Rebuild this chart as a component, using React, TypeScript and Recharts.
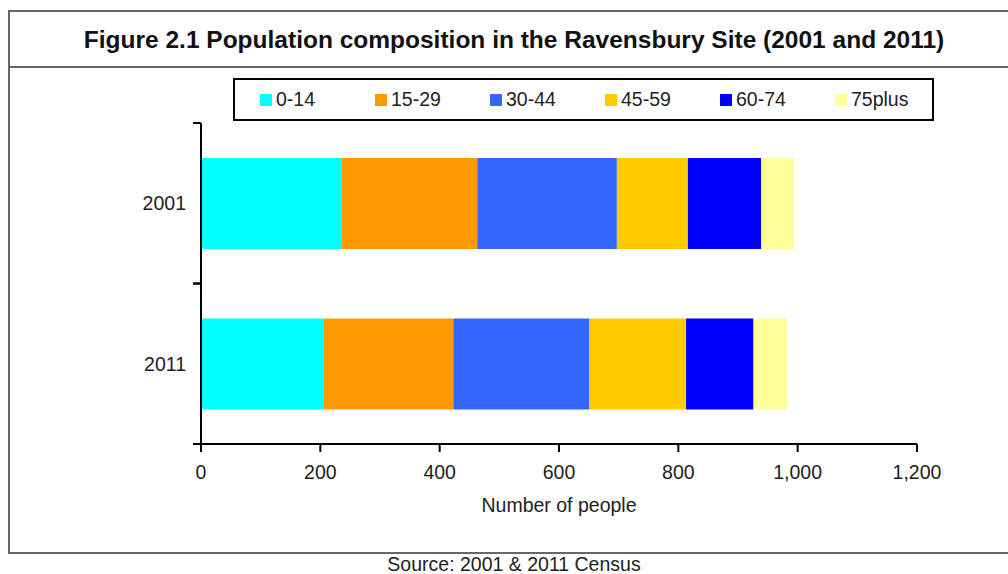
import React from 'react';
import { BarChart, Bar, XAxis, YAxis, Legend, Label } from 'recharts';

// values
const years = ['2001', '2011'];
const ageGroups = ['0-14', '15-29', '30-44', '45-59', '60-74', '75plus'];
const values2001 = [235, 228, 234, 119, 123, 55];
const values2011 = [205, 218, 228, 162, 113, 56];
const groupColors = ['#00FFFF', '#FF9900', '#3366FF', '#FFCC00', '#0000FF', '#FFFF99'];
const xTicks = [0, 200, 400, 600, 800, 1000, 1200];

const data = years.map((year, i) => {
  const vals = i === 0 ? values2001 : values2011;
  const row: Record<string, string | number> = { year };
  ageGroups.forEach((g, j) => { row[g] = vals[j]; });
  return row;
});

const FONT = '"Liberation Sans", Arial, sans-serif';
const W = 1008;
const H = 574;
const MARGIN = { top: 123, right: 91, bottom: 100, left: 121 };
const Y_WIDTH = 80;
const PLOT_H = H - MARGIN.top - MARGIN.bottom - 30;
const HALF_BAND = PLOT_H / years.length / 2;
const TXT = 19.5;

// category label at band centre, tick marks on band edges (like Excel)
const YearTick = (props: any) => {
  const { x, y, payload } = props;
  const axisX = x + 15;
  return (
    <g>
      <text x={x} y={y} dy={7} textAnchor="end" fontSize={TXT} fill="#222" fontFamily={FONT}>{payload.value}</text>
      <line x1={axisX - 8} x2={axisX} y1={y - HALF_BAND} y2={y - HALF_BAND} stroke="#000" strokeWidth={2} />
      <line x1={axisX - 8} x2={axisX} y1={y + HALF_BAND} y2={y + HALF_BAND} stroke="#000" strokeWidth={2} />
    </g>
  );
};

const LegendBox = ({ payload }: any) => (
  <div style={{
    boxSizing: 'border-box', width: 701, height: 43, border: '2px solid #000', background: '#fff',
    display: 'flex', alignItems: 'center', paddingLeft: 25, fontFamily: FONT, fontSize: 19.5, color: '#222',
  }}>
    {(payload || []).map((p: any) => (
      <div key={p.value} style={{ width: 115, flexShrink: 0, display: 'flex', alignItems: 'center' }}>
        <span style={{ width: 12, height: 12, background: p.color, display: 'inline-block', marginRight: 4 }} />
        <span>{p.value}</span>
      </div>
    ))}
  </div>
);

export default function App() {
  return (
    <div style={{ position: 'absolute', left: 0, top: 0, width: W, height: H, overflow: 'hidden', background: '#fff', fontFamily: FONT }}>
      <div style={{
        position: 'absolute', left: 8, top: 10, width: 1020, height: 540,
        border: '2px solid #666', boxSizing: 'content-box',
      }} />
      <div style={{ position: 'absolute', left: 8, top: 66, width: 1020, borderTop: '2px solid #666' }} />
      <div style={{
        position: 'absolute', left: 10, top: 13, width: 1008, height: 54, lineHeight: '54px',
        textAlign: 'center', fontWeight: 'bold', fontSize: 24.5, color: '#111', whiteSpace: 'nowrap',
      }}>
        Figure 2.1 Population composition in the Ravensbury Site (2001 and 2011)
      </div>
      <div style={{ position: 'absolute', left: 0, top: 0 }}>
        <BarChart width={W} height={H} data={data} layout="vertical" margin={MARGIN}>
          <XAxis
            type="number" domain={[0, 1200]} ticks={xTicks} height={30}
            tickFormatter={(v: number) => v.toLocaleString('en-US')}
            tickSize={8} tickMargin={13}
            tick={{ fontSize: TXT, fill: '#222', fontFamily: FONT }}
            axisLine={{ stroke: '#000', strokeWidth: 2 }}
            tickLine={{ stroke: '#000', strokeWidth: 2 }}
          >
            <Label value="Number of people" position="bottom" offset={24} style={{ fontSize: TXT, fill: '#222', fontFamily: FONT }} />
          </XAxis>
          <YAxis
            type="category" dataKey="year" width={Y_WIDTH}
            tickSize={8} tickMargin={7} tickLine={false}
            tick={<YearTick />}
            axisLine={{ stroke: '#000', strokeWidth: 2 }}
          />
          <Legend
            layout="vertical" align="center" verticalAlign="middle"
            content={<LegendBox />}
            wrapperStyle={{ left: 233, top: 78, width: 701, height: 43 }}
          />
          {ageGroups.map((g, i) => (
            <Bar key={g} dataKey={g} name={g} stackId="a" fill={groupColors[i]} barSize={91} isAnimationActive={false} />
          ))}
        </BarChart>
      </div>
      <div style={{ position: 'absolute', left: 0, top: 553, width: 1028, textAlign: 'center', fontSize: 19.5, color: '#222' }}>
        Source: 2001 &amp; 2011 Census
      </div>
    </div>
  );
}
